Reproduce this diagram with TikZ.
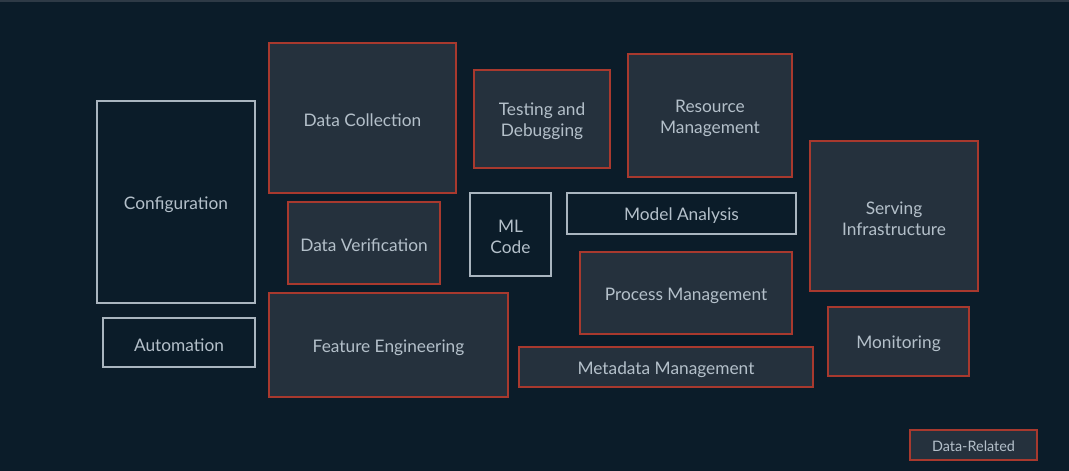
\documentclass[tikz,border=0pt]{standalone}
\usepackage{fontspec}
\setmainfont{Lato}
\definecolor{bg}{HTML}{0B1C29}
\definecolor{boxfill}{HTML}{25313D}
\definecolor{redline}{HTML}{A8392E}
\definecolor{whiteline}{HTML}{A9B5BF}
\definecolor{txt}{HTML}{B4C0CA}
\definecolor{topline}{HTML}{2E3A46}
\begin{document}
\begin{tikzpicture}[x=1pt,y=-1pt,
  box/.style={draw, line width=1.1pt},
  databox/.style={box, draw=redline, fill=boxfill},
  plainbox/.style={box, draw=whiteline, fill=bg},
  lbl/.style={text=txt, font=\fontsize{17.3}{21}\selectfont, align=center, yshift=-1.5pt}]
\fill[bg] (0,0) rectangle (1069,471);
\useasboundingbox (0,0) rectangle (1069,471);
\fill[topline] (0,0) rectangle (1069,2);
% boxes
\draw[plainbox] (97,101) rectangle (255,303);
\node[lbl] (conf) at (176,203) {Configuration};
\draw[plainbox] (103,318) rectangle (255,367);
\node[lbl] (auto) at (179,343.5) {Automation};
\draw[databox] (269,43) rectangle (456,193);
\node[lbl] (dc) at (362.5,119) {Data Collection};
\draw[databox] (474,70) rectangle (610,168);
\node[lbl] (td) at (542,120) {Testing and\\Debugging};
\draw[databox] (628,54) rectangle (792,177);
\node[lbl] (rm) at (710,116.5) {Resource\\Management};
\draw[databox] (810,141) rectangle (978,291);
\node[lbl] (si) at (894,217) {Serving\\Infrastructure};
\draw[databox] (288,202) rectangle (440,284);
\node[lbl] (dv) at (364,244) {Data Verification};
\draw[plainbox] (470,193) rectangle (551,276);
\node[lbl] (ml) at (510.5,235.5) {ML\\Code};
\draw[plainbox] (567,193) rectangle (796,234);
\node[lbl] (ma) at (681.5,214.5) {Model Analysis};
\draw[databox] (580,252) rectangle (792,334);
\node[lbl] (pm) at (686,294) {Process Management};
\draw[databox] (269,293) rectangle (508,397);
\node[lbl] (fe) at (388.5,346) {Feature Engineering};
\draw[databox] (519,347) rectangle (813,387);
\node[lbl] (mm) at (666,368) {Metadata Management};
\draw[databox] (828,307) rectangle (969,376);
\node[lbl] (mon) at (898.5,342.5) {Monitoring};
\draw[databox] (910,430) rectangle (1037,460);
\node[lbl, font=\fontsize{14.4}{17}\selectfont] (dr) at (973.5,445) {Data-Related};
\end{tikzpicture}
\end{document}
